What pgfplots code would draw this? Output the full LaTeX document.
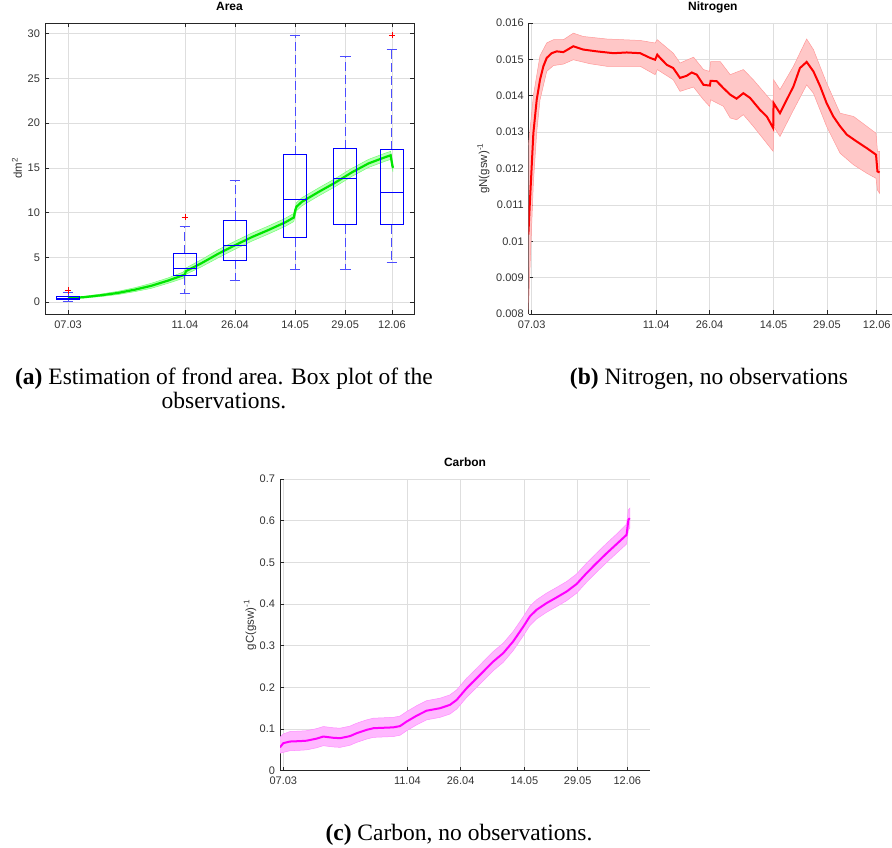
\documentclass[border=0pt]{standalone}
\usepackage{fontspec}
\setmainfont{Liberation Serif}
\setsansfont{Liberation Sans}
\usepackage{pgfplots}
\pgfplotsset{compat=1.18}
\definecolor{axgray}{rgb}{0.15,0.15,0.15}
\definecolor{tickgray}{rgb}{0.2,0.2,0.2}
\definecolor{gridgray}{rgb}{0.87,0.87,0.87}
\definecolor{mlgreen}{rgb}{0,0.9,0}
\definecolor{mlmag}{rgb}{1,0,1}
\definecolor{mlblue}{rgb}{0,0,1}
\definecolor{whiskblue}{rgb}{0.3,0.3,1}
\definecolor{mlred}{rgb}{1,0,0}
\newcommand{\tickfont}{\sffamily\fontsize{11}{13}\selectfont}
\newcommand{\labfont}{\sffamily\fontsize{11.5}{13}\selectfont}
\pgfplotsset{
  mlstyle/.style={
    scale only axis,
    axis line style={draw=axgray, line width=0.6pt},
    tick style={draw=axgray, line width=0.6pt},
    tick align=inside,
    major tick length=4pt,
    grid=major,
    major grid style={draw=gridgray, line width=0.6pt},
    tick label style={font=\tickfont, text=tickgray},
    xticklabel style={font=\tickfont, text=tickgray, yshift=-3pt},
    yticklabel style={font=\tickfont, text=tickgray, xshift=-1.5pt},
    scaled y ticks=false,
    title style={font=\sffamily\bfseries\fontsize{12}{14}\selectfont, at={(axis description cs:0.5,1)}, anchor=base, yshift=6.5pt},
    xtick={0,35,50,68,83,97},
    xticklabels={07.03,11.04,26.04,14.05,29.05,12.06},
  },
}
\begin{document}
\begin{tikzpicture}

% ---------------- (a) Area ----------------
\begin{axis}[mlstyle,
  at={(45pt,533pt)}, anchor=south west,
  width=369pt, height=291pt,
  xmin=-6.9, xmax=103.6, ymin=-1.34, ymax=31.2,
  ytick={0,5,10,15,20,25,30},
  yticklabels={0,5,10,15,20,25,30},
  title={Area},
  ylabel={dm\textsuperscript{2}},
  every axis y label/.style={at={(axis description cs:-0.076,0.5)}, rotate=90, anchor=center, font=\labfont, text=tickgray},
  unbounded coords=jump,
]
\addplot[fill=green!35, fill opacity=0.8, draw=green!55, line width=0.5pt] coordinates {
(0,0.5) (5,0.65) (10,0.9) (15,1.2) (20,1.6) (25,2.1) (30,2.7) (34.5,3.35) (35.3,3.8) (40,4.75) (45,5.85) (50,6.8) (55,7.7) (60,8.5) (65,9.35) (67.6,9.9) (68.4,11.1) (70,11.65) (75,12.75) (80,13.8) (85,14.95) (90,15.95) (95,16.65) (96.6,16.85) (97.3,15.45)
(97.3,14.55) (96.6,15.95) (95,15.75) (90,15.05) (85,14.05) (80,12.9) (75,11.85) (70,10.75) (68.4,10.2) (67.6,9.0) (65,8.45) (60,7.6) (55,6.8) (50,5.9) (45,4.95) (40,3.95) (35.3,3.1) (34.5,2.65) (30,2.1) (25,1.54) (20,1.16) (15,0.84) (10,0.62) (5,0.45) (0,0.34)} -- cycle;
\addplot[mlgreen, line width=2.2pt] coordinates {
(0,0.42) (5,0.55) (10,0.76) (15,1.02) (20,1.38) (25,1.82) (30,2.4) (34.5,3.0) (35,3.1) (35.3,3.45) (40,4.35) (45,5.4) (50,6.35) (55,7.25) (60,8.05) (65,8.9) (67.6,9.45) (68,10.2) (68.4,10.65) (70,11.2) (75,12.3) (80,13.35) (85,14.5) (90,15.5) (95,16.2) (96.6,16.4) (97.1,15.3) (97.3,15.0)};
% whiskers (dashed)
\addplot[color=whiskblue, line width=1pt, dash pattern=on 9pt off 4pt] coordinates {
(0,0.6) (0,1.05) (0,nan) (0,0.25) (0,0.05) (0,nan)
(35,5.41) (35,8.47) (35,nan) (35,2.95) (35,1.0) (35,nan)
(50,9.14) (50,13.58) (50,nan) (50,4.70) (50,2.46) (50,nan)
(68,16.49) (68,29.85) (68,nan) (68,7.20) (68,3.66) (68,nan)
(83,17.16) (83,27.43) (83,nan) (83,8.66) (83,3.62) (83,nan)
(97,17.01) (97,28.28) (97,nan) (97,8.66) (97,4.40)};
% whisker caps
\addplot[color=whiskblue, line width=0.9pt] coordinates {
(-1.6,1.05) (1.6,1.05) (0,nan) (-1.6,0.05) (1.6,0.05) (0,nan)
(33.4,8.47) (36.6,8.47) (35,nan) (33.4,1.0) (36.6,1.0) (35,nan)
(48.4,13.58) (51.6,13.58) (50,nan) (48.4,2.46) (51.6,2.46) (50,nan)
(66.4,29.85) (69.6,29.85) (68,nan) (66.4,3.66) (69.6,3.66) (68,nan)
(81.4,27.43) (84.6,27.43) (83,nan) (81.4,3.62) (84.6,3.62) (83,nan)
(95.4,28.28) (98.6,28.28) (97,nan) (95.4,4.40) (98.6,4.40)};
% boxes (quartiles)
\addplot[color=mlblue, line width=0.9pt] coordinates {
(-3.5,0.25) (3.5,0.25) (3.5,0.6) (-3.5,0.6) (-3.5,0.25) (0,nan)
(31.5,2.95) (38.5,2.95) (38.5,5.41) (31.5,5.41) (31.5,2.95) (35,nan)
(46.5,4.70) (53.5,4.70) (53.5,9.14) (46.5,9.14) (46.5,4.70) (50,nan)
(64.5,7.20) (71.5,7.20) (71.5,16.49) (64.5,16.49) (64.5,7.20) (68,nan)
(79.5,8.66) (86.5,8.66) (86.5,17.16) (79.5,17.16) (79.5,8.66) (83,nan)
(93.5,8.66) (100.5,8.66) (100.5,17.01) (93.5,17.01) (93.5,8.66)};
% medians
\addplot[color=mlblue, line width=0.9pt] coordinates {
(-3.5,0.4) (3.5,0.4) (0,nan)
(31.5,3.77) (38.5,3.77) (35,nan)
(46.5,6.27) (53.5,6.27) (50,nan)
(64.5,11.46) (71.5,11.46) (68,nan)
(79.5,13.77) (86.5,13.77) (83,nan)
(93.5,12.2) (100.5,12.2)};
% outliers
\addplot[only marks, mark=+, color=mlred, mark size=3.2pt, line width=0.8pt] coordinates {(0,1.3) (35,9.48) (97,29.85)};
\end{axis}

% ---------------- (b) Nitrogen ----------------
\begin{axis}[mlstyle,
  at={(528.7pt,533pt)}, anchor=south west,
  width=368.3pt, height=291pt,
  axis x line*=bottom, axis y line*=left,
  xmin=-0.84, xmax=102.7, ymin=0.008, ymax=0.016,
  ytick={0.008,0.009,0.010,0.011,0.012,0.013,0.014,0.015,0.016},
  yticklabels={0.008,0.009,0.01,0.011,0.012,0.013,0.014,0.015,0.016},
  title={Nitrogen},
  ylabel={gN(gsw)\textsuperscript{-1}},
  every axis y label/.style={at={(axis description cs:-0.123,0.5)}, rotate=90, anchor=center, font=\labfont, text=tickgray},
]
\addplot[fill=mlred!22, draw=mlred!40, line width=0.5pt] coordinates {
(-0.94,0.0126) (0.47,0.0140) (2.34,0.0151) (4.22,0.01545) (6.1,0.01554) (8.9,0.01554) (11.7,0.01572) (14.5,0.01563) (21.1,0.01556) (30.5,0.01552) (34.7,0.01545) (35.3,0.01554) (39.8,0.01517) (41.7,0.0149) (45.5,0.01506) (48.3,0.01472) (50.0,0.01467) (50.3,0.01494) (53.0,0.01494) (55.8,0.01458) (59.5,0.01472) (62.3,0.01444) (67.9,0.0138) (68.0,0.01444) (69.8,0.01417) (73.6,0.01481) (77.3,0.01556) (79.2,0.01527) (82.9,0.01435) (86.7,0.01352) (90.5,0.01343) (94.2,0.01316) (96.8,0.01297) (97.2,0.01247) (97.8,0.01247)
(97.8,0.01132) (97.2,0.01141) (96.8,0.01173) (94.2,0.01187) (90.5,0.0121) (86.7,0.01242) (82.9,0.01316) (79.2,0.01407) (77.3,0.0143) (73.6,0.01361) (69.8,0.01288) (68.0,0.01316) (67.9,0.01247) (62.3,0.01316) (59.5,0.01348) (57.6,0.01334) (55.8,0.01339) (53.9,0.01371) (50.3,0.01389) (50.0,0.01371) (48.3,0.01389) (45.5,0.01424) (43.6,0.01418) (41.7,0.01412) (39.8,0.01444) (35.3,0.01472) (34.7,0.01458) (30.5,0.01481) (25.8,0.01481) (21.1,0.01481) (16.4,0.01488) (11.7,0.01499) (8.9,0.01487) (6.1,0.01483) (4.22,0.01467) (2.34,0.01389) (1.41,0.0130) (0.47,0.0116) (-0.47,0.0093) (-0.94,0.008)} -- cycle;
\addplot[mlred, line width=2pt] coordinates {
(-0.94,0.01018) (-0.47,0.01114) (0.47,0.01297) (1.41,0.01389) (2.34,0.01444) (3.28,0.01481) (4.22,0.01504) (5.62,0.01517) (7.03,0.01522) (8.9,0.0152) (11.7,0.01536) (14.5,0.01527) (18.3,0.01522) (23.0,0.01517) (26.7,0.01519) (30.5,0.01517) (33.3,0.01504) (34.7,0.01499) (35.3,0.01513) (36.1,0.01504) (38.0,0.01485) (39.8,0.01476) (41.7,0.01449) (43.6,0.01455) (45.0,0.01464) (46.4,0.01458) (48.3,0.0143) (50.1,0.01428) (50.3,0.01441) (52.0,0.0144) (53.9,0.01421) (55.8,0.01403) (57.6,0.01392) (59.5,0.01407) (61.4,0.01394) (64.2,0.01361) (66.1,0.01343) (67.9,0.01311) (68.0,0.0138) (69.8,0.01352) (71.7,0.01389) (73.6,0.01426) (75.4,0.01476) (77.3,0.01493) (79.2,0.01467) (81.1,0.01426) (82.9,0.0138) (84.8,0.01343) (86.7,0.01316) (88.6,0.01293) (91.4,0.01274) (94.2,0.01256) (96.8,0.01238) (97.2,0.01192) (97.8,0.01189)};
\end{axis}

% ---------------- (c) Carbon ----------------
\begin{axis}[mlstyle,
  at={(280pt,76.3pt)}, anchor=south west,
  width=370pt, height=291.7pt,
  axis x line*=bottom, axis y line*=left,
  xmin=-0.93, xmax=103.4, ymin=0, ymax=0.7,
  ytick={0,0.1,0.2,0.3,0.4,0.5,0.6,0.7},
  yticklabels={0,0.1,0.2,0.3,0.4,0.5,0.6,0.7},
  title={Carbon},
  ylabel={gC(gsw)\textsuperscript{-1}},
  every axis y label/.style={at={(axis description cs:-0.081,0.5)}, rotate=90, anchor=center, font=\labfont, text=tickgray},
]
\addplot[fill=mlmag!28, draw=mlmag!45, line width=0.5pt] coordinates {
(-0.94,0.080) (0,0.088) (1.88,0.094) (4.7,0.095) (6.58,0.096) (9.4,0.101) (11.28,0.106) (14.1,0.103) (16,0.102) (18.8,0.107) (20.7,0.114) (23.5,0.122) (25.4,0.126) (28.2,0.127) (31,0.128) (32.9,0.131) (34.8,0.142) (37.6,0.156) (40.4,0.168) (44.2,0.174) (47,0.182) (48.9,0.194) (51.7,0.222) (53.6,0.238) (56.4,0.262) (59.2,0.286) (62,0.306) (64.8,0.334) (67.7,0.370) (69.5,0.394) (71.4,0.410) (74.2,0.426) (77.1,0.440) (79.9,0.454) (82.7,0.472) (85.5,0.498) (88.3,0.522) (91.2,0.546) (94,0.568) (96.8,0.592) (97.3,0.626) (97.7,0.630)
(97.7,0.582) (97.3,0.578) (96.8,0.544) (94,0.522) (91.2,0.500) (88.3,0.476) (85.5,0.452) (82.7,0.426) (79.9,0.408) (77.1,0.394) (74.2,0.380) (71.4,0.364) (69.5,0.348) (67.7,0.324) (64.8,0.288) (62,0.260) (59.2,0.240) (56.4,0.216) (53.6,0.192) (51.7,0.176) (48.9,0.148) (47,0.136) (44.2,0.128) (40.4,0.122) (37.6,0.110) (34.8,0.096) (32.9,0.085) (31,0.082) (28.2,0.081) (25.4,0.080) (23.5,0.076) (20.7,0.068) (18.8,0.061) (16,0.056) (14.1,0.057) (11.28,0.060) (9.4,0.055) (6.58,0.050) (4.7,0.049) (1.88,0.048) (0,0.044) (-0.94,0.042)} -- cycle;
\addplot[mlmag, line width=2pt] coordinates {
(-0.94,0.056) (0,0.066) (1.88,0.070) (4.7,0.071) (6.58,0.072) (9.4,0.077) (11.28,0.082) (14.1,0.079) (16,0.078) (18.8,0.083) (20.7,0.090) (23.5,0.098) (25.4,0.102) (28.2,0.103) (31,0.104) (32.9,0.107) (34.8,0.118) (37.6,0.132) (40.4,0.144) (44.2,0.150) (47,0.158) (48.9,0.170) (51.7,0.198) (53.6,0.214) (56.4,0.238) (59.2,0.262) (62,0.282) (64.8,0.310) (67.7,0.346) (69.5,0.370) (71.4,0.386) (74.2,0.402) (77.1,0.416) (79.9,0.430) (82.7,0.448) (85.5,0.474) (88.3,0.498) (91.2,0.522) (94,0.544) (96.8,0.566) (97.3,0.602) (97.7,0.606)};
\end{axis}

% ---------------- captions ----------------
\node[anchor=base, font=\fontsize{23.5}{26}\selectfont] at (224pt,462pt) {\textbf{(a)} Estimation of frond area. Box plot of the};
\node[anchor=base, font=\fontsize{23.5}{26}\selectfont] at (224pt,438pt) {observations.};
\node[anchor=base, font=\fontsize{23.5}{26}\selectfont] at (709pt,462pt) {\textbf{(b)} Nitrogen, no observations};
\node[anchor=base, font=\fontsize{23.5}{26}\selectfont] at (459pt,6.5pt) {\textbf{(c)} Carbon, no observations.};

\pgfresetboundingbox
\path[use as bounding box] (0,0) rectangle (892pt,847pt);
\end{tikzpicture}
\end{document}
